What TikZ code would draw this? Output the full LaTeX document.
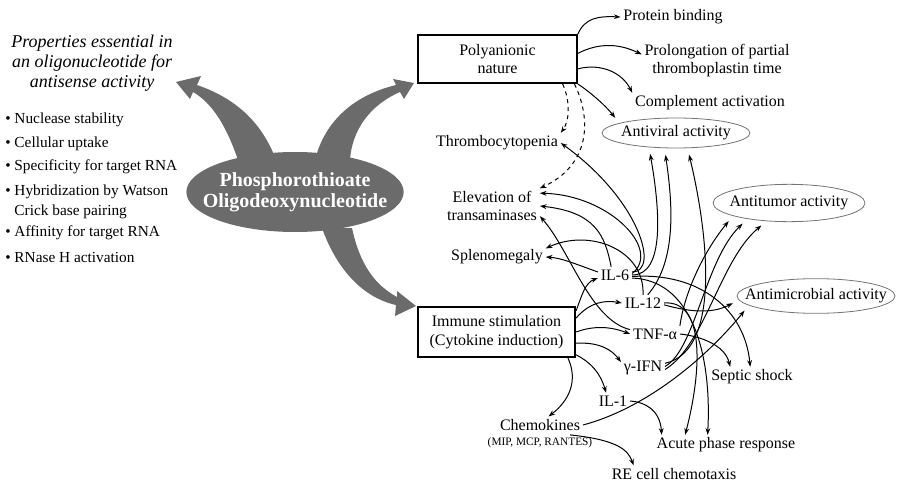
\documentclass[tikz,border=0pt]{standalone}
\usepackage{fontspec}
\setmainfont{Liberation Serif}
\usepackage{tikz}
\usetikzlibrary{shapes.geometric,arrows.meta,positioning}
\tikzstyle{block} = [draw, rectangle, line width=1.5pt, minimum height=36pt, minimum width=119pt, align=center, font=\fontsize{12}{14}\selectfont]
\tikzstyle{term} = [inner sep=2pt, align=center, font=\fontsize{12}{13.5}\selectfont]
\tikzstyle{effect} = [term, draw=black!55, line width=0.6pt, ellipse, inner xsep=-20pt, inner ysep=0pt]
\tikzstyle{propitem} = [anchor=west, inner sep=0pt, align=left, font=\fontsize{11.5}{15}\selectfont]
\tikzstyle{link} = [->, >={Stealth[length=5pt,width=3.6pt]}, line width=0.75pt]
\tikzstyle{reach} = [link, shorten >=5pt]
\tikzstyle{horn} = [fill=black!58]

\begin{document}
\begin{tikzpicture}[x=0.75pt, y=-0.75pt]
	\useasboundingbox (0,0) rectangle (899,485);

	\fill[horn] (238,160) .. controls (226,125) and (212,103) .. (193,92) -- (190,99) -- (176,82) -- (201,76) -- (197,85) .. controls (235,98) and (262,122) .. (276,160) -- cycle;
	\fill[horn] (315,160) .. controls (325,120) and (355,95) .. (396,85) -- (393,79) -- (414,83) -- (404,99) -- (400,92) .. controls (370,105) and (352,130) .. (350,160) -- cycle;
	\fill[horn] (352,228) .. controls (360,265) and (375,285) .. (397,297) -- (397,291) -- (416,306) -- (395,316) -- (396,305) .. controls (360,297) and (335,265) .. (322,228) -- cycle;

	\node[ellipse, fill=black!58, minimum width=163pt, minimum height=60pt, inner xsep=-40pt, inner ysep=0pt, text=white, align=center, font=\fontsize{15}{15.75}\selectfont\bfseries] (PS_ODN) at (295,192) {Phosphorothioate\\Oligodeoxynucleotide};

	\node[align=center, inner sep=0pt, font=\fontsize{13.5}{15}\selectfont\itshape] (PROPS) at (92,63) {Properties essential in\\an oligonucleotide for\\antisense activity};
	\node[propitem] (NUCLEASE) at (5,120) {\textbullet~Nuclease stability};
	\node[propitem] (UPTAKE) at (5,144) {\textbullet~Cellular uptake};
	\node[propitem] (SPECIFICITY) at (5,167) {\textbullet~Specificity for target RNA};
	\node[propitem] (HYBRID) at (5,202) {\textbullet~Hybridization by Watson\\\phantom{\textbullet~}Crick base pairing};
	\node[propitem] (AFFINITY) at (5,233) {\textbullet~Affinity for target RNA};
	\node[propitem] (RNASEH) at (5,257) {\textbullet~RNase H activation};

	\node[block] (POLY) at (497.5,59) {Polyanionic\\nature};
	\node[block, minimum height=37.5pt, minimum width=118pt] (IMMUNE) at (496.5,332) {Immune stimulation\\(Cytokine induction)};

	\node[term] (PROTEIN) at (673,17) {Protein binding};
	\node[term] (PROLONG) at (717,61) {Prolongation of partial\\thromboplastin time};
	\node[term] (COMPLEMENT) at (710,103) {Complement activation};
	\node[effect, minimum width=111pt, minimum height=22.5pt] (ANTIVIRAL) at (676,133) {Antiviral activity};
	\node[term] (THROMBO) at (497,143) {Thrombocytopenia};
	\node[term] (ELEVATION) at (492,206) {Elevation of\\transaminases};
	\node[term] (SPLENO) at (497,257) {Splenomegaly};
	\node[effect, minimum width=114pt, minimum height=28pt] (ANTITUMOR) at (789,203) {Antitumor activity};
	\node[effect, minimum width=118.5pt, minimum height=26pt] (ANTIMICROBIAL) at (816,296) {Antimicrobial activity};
	\node[term] (IL6) at (615,275) {IL-6};
	\node[term] (IL12) at (643,303) {IL-12};
	\node[term] (TNF) at (655,334) {TNF-α};
	\node[term] (IFN) at (643,368) {γ-IFN};
	\node[term] (IL1) at (613,401) {IL-1};
	\node[term] (CHEMOKINES) at (540,425) {Chemokines};
	\node[term, font=\fontsize{8.5}{10}\selectfont, below=1pt of CHEMOKINES] (CHEMO_LIST) {(MIP, MCP, RANTES)};
	\node[term] (SEPTIC) at (752,377) {Septic shock};
	\node[term] (ACUTE) at (726,445) {Acute phase response};
	\node[term] (RECELL) at (674,474) {RE cell chemotaxis};

	\draw[link] (POLY.north east) .. controls (585,18) and (598,16) .. (PROTEIN.west);
	\draw[link] (POLY.4) .. controls (600,42) and (620,44) .. (PROLONG.175);
	\draw[link] (POLY.-7) .. controls (600,63) and (622,72) .. (COMPLEMENT.north west);
	\draw[reach] (POLY.south east) .. controls (590,92) and (605,105) .. (ANTIVIRAL.170);
	\draw[link, dashed] (POLY.-21) .. controls (570,100) and (570,120) .. (THROMBO.north east);
	\draw[link, dashed] (POLY.-18) .. controls (592,120) and (590,165) .. (ELEVATION.north east);

	\draw[link] (IMMUNE.15) .. controls (582,295) and (585,283) .. (IL6.190);
	\draw[link] (IMMUNE.10) .. controls (590,302) and (605,300) .. (IL12.west);
	\draw[link] (IMMUNE.0) .. controls (595,325) and (612,327) .. (TNF.west);
	\draw[link] (IMMUNE.-8) .. controls (600,342) and (612,350) .. (IFN.165);
	\draw[link] (IMMUNE.-16) .. controls (590,362) and (600,372) .. (IL1.130);
	\draw[link] (IMMUNE.-20) .. controls (578,380) and (570,400) .. (CHEMOKINES.45);
	\draw[link] (CHEMO_LIST.15) .. controls (618,440) and (628,450) .. (RECELL.168);

	\draw[link] (IL6.170) .. controls (578,265) and (562,258) .. (SPLENO.east);
	\draw[link] (IL6.10) .. controls (660,272) and (640,200) .. (THROMBO.east);
	\draw[link] (IL6.5) .. controls (662,250) and (610,195) .. (ELEVATION.15);
	\draw[link] (IL6.115) .. controls (605,235) and (595,212) .. (ELEVATION.0);
	\draw[reach] (IL6.east) .. controls (665,275) and (660,210) .. (ANTIVIRAL.208);
	\draw[link] (IL6.-5) .. controls (700,272) and (745,310) .. (SEPTIC.100);
	\draw[link] (IL6.-10) .. controls (690,280) and (712,350) .. (ACUTE.151);

	\draw[link] (IL12.north) .. controls (645,250) and (590,228) .. (SPLENO.10);
	\draw[reach] (IL12.60) .. controls (678,260) and (672,200) .. (ANTIVIRAL.233);
	\draw[link] (IL12.east) .. controls (705,300) and (702,370) .. (ACUTE.166);
	\draw[reach] (IL12.-5) .. controls (690,312) and (712,314) .. (ANTIMICROBIAL.183);

	\draw[link] (TNF.170) .. controls (590,320) and (570,250) .. (ELEVATION.-12);
	\draw[reach] (TNF.north east) .. controls (685,290) and (705,250) .. (ANTITUMOR.193);
	\draw[link] (TNF.east) .. controls (700,336) and (725,345) .. (SEPTIC.155);

	\draw[reach] (IFN.12) .. controls (725,350) and (705,220) .. (ANTIVIRAL.307);
	\draw[reach] (IFN.4) .. controls (695,350) and (705,260) .. (ANTITUMOR.201);
	\draw[reach] (IFN.-4) .. controls (705,345) and (720,260) .. (ANTITUMOR.219);

	\draw[link] (IL1.east) .. controls (645,402) and (660,410) .. (ACUTE.171);
	\draw[reach] (CHEMOKINES.east) .. controls (640,410) and (700,365) .. (ANTIMICROBIAL.188);
\end{tikzpicture}
\end{document}
